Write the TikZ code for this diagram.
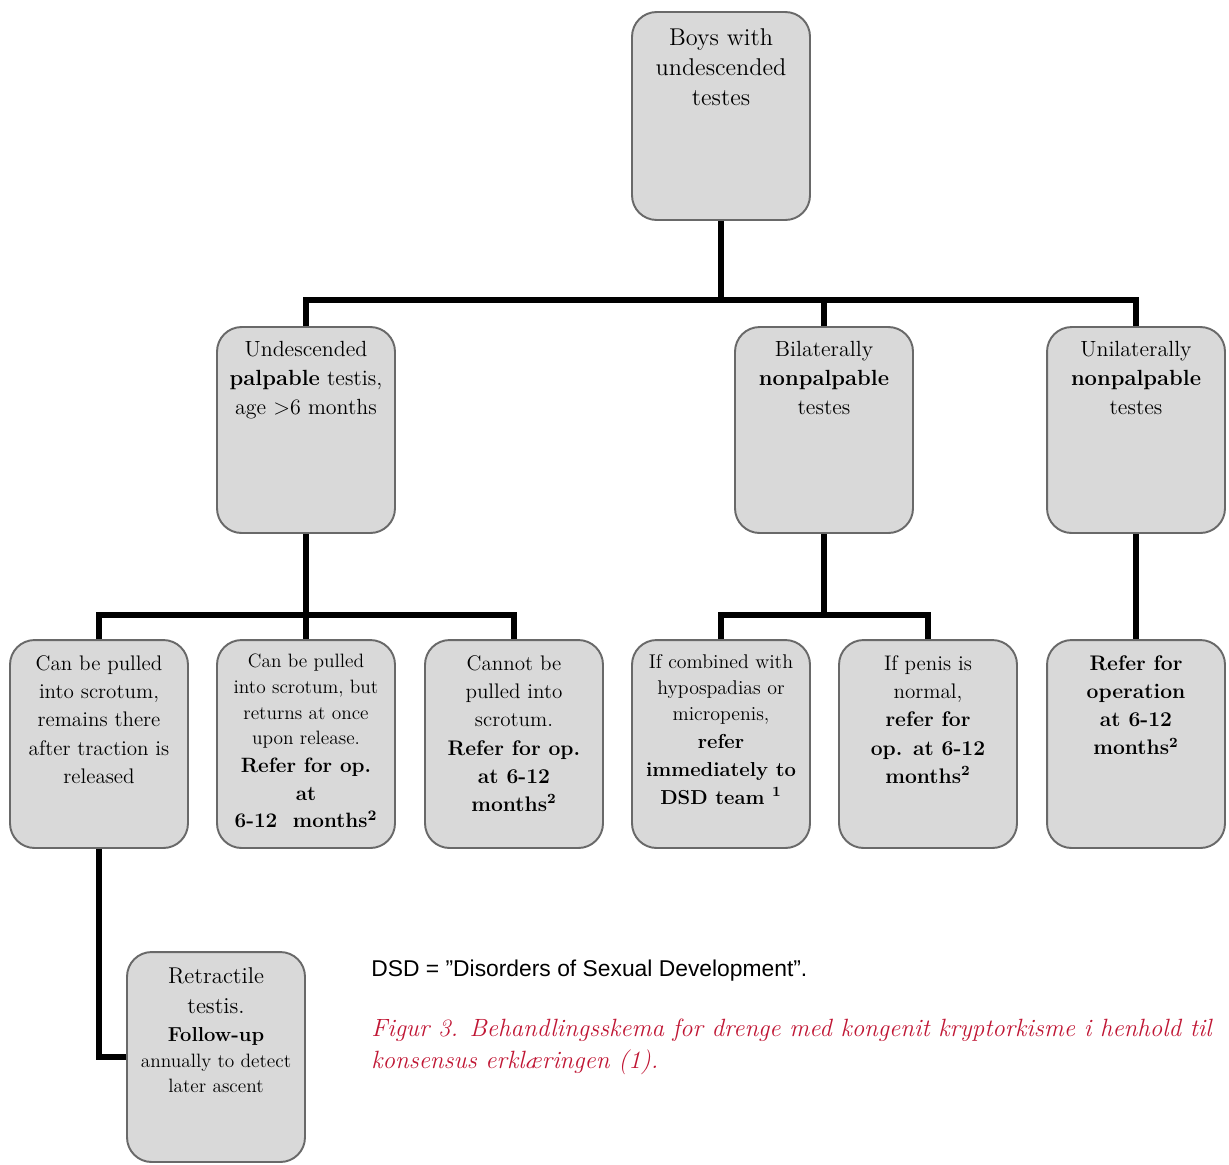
\documentclass[tikz,border=0pt]{standalone}
\usepackage{fontspec}
\usetikzlibrary{positioning}
\definecolor{boxfill}{RGB}{217,217,217}
\definecolor{boxedge}{RGB}{105,105,105}
\definecolor{capred}{RGB}{192,22,52}
\newfontfamily\notefont{Liberation Sans}
\tikzset{
  box/.style={draw=boxedge, fill=boxfill, line width=1.1pt, rounded corners=14pt, inner sep=0pt},
  link/.style={line width=3.9pt, draw=black}
}
% fixed-size box content, text hung from the top
\newcommand{\boxtext}[3]{\parbox[c][#1][t]{3.56cm}{\centering\vspace*{#2}#3}}

\begin{document}
\begin{tikzpicture}[x=0.02cm, y=-0.02cm]
  \useasboundingbox (0,0) rectangle (1229,1164);

  % root
  \node[box] (boys) at (721,116) {\boxtext{4.16cm}{9.5pt}{\fontsize{13.8}{17}\selectfont
    Boys with\\ undescended\\ testes}};

  % second row
  \node[box] (palp) at (306,430) {\boxtext{4.12cm}{8pt}{\fontsize{12.5}{16.5}\selectfont
    Undescended\\ \textbf{palpable} testis,\\ age >6 months}};
  \node[box] (bilat) at (824,430) {\boxtext{4.12cm}{8pt}{\fontsize{12.5}{16.5}\selectfont
    Bilaterally\\ \textbf{nonpalpable}\\ testes}};
  \node[box] (unilat) at (1136,430) {\boxtext{4.12cm}{8pt}{\fontsize{12.5}{16.5}\selectfont
    Unilaterally\\ \textbf{nonpalpable}\\ testes}};

  % third row
  \node[box] (pullstay) at (99,744) {\boxtext{4.16cm}{9pt}{\fontsize{12}{16}\selectfont
    Can be pulled\\ into scrotum,\\ remains there\\ after traction is\\ released}};
  \node[box] (pullback) at (306,744) {\boxtext{4.16cm}{8pt}{%
    {\fontsize{11}{14.6}\selectfont Can be pulled\\ into scrotum, but\\ returns at once\\ upon release.\par}
    {\fontsize{11.8}{15.8}\selectfont\bfseries Refer for op.\\ at\\ 6-12~ months\textsuperscript{2}\par}}};
  \node[box] (nopull) at (514,744) {\boxtext{4.16cm}{9pt}{\fontsize{12}{16}\selectfont
    Cannot be\\ pulled into\\ scrotum.\\ \textbf{Refer for op.}\\ \textbf{at 6-12}\\ \textbf{months\textsuperscript{2}}}};
  \node[box] (dsd) at (721,744) {\boxtext{4.16cm}{8pt}{%
    {\fontsize{11.3}{15}\selectfont If combined with\\ hypospadias or\\ micropenis,\par}
    {\fontsize{11.5}{15.8}\selectfont\bfseries refer\\ immediately to\\ DSD team \textsuperscript{1}\par}}};
  \node[box] (normal) at (928,744) {\boxtext{4.16cm}{9pt}{\fontsize{12}{16}\selectfont
    If penis is\\ normal,\\ \textbf{refer for}\\ \textbf{op. at 6-12}\\ \textbf{months\textsuperscript{2}}}};
  \node[box] (operate) at (1136,744) {\boxtext{4.16cm}{9pt}{\fontsize{12}{16}\selectfont\bfseries
    Refer for\\ operation\\ at 6-12\\ months\textsuperscript{2}}};

  % fourth row
  \node[box] (retract) at (216,1057) {\boxtext{4.2cm}{9pt}{%
    {\fontsize{13}{17}\selectfont Retractile\\ testis.\par}
    {\fontsize{11.5}{16}\selectfont\bfseries Follow-up\par}
    {\fontsize{11}{14.5}\selectfont annually to detect\\ later ascent\par}}};

  % connectors
  \coordinate (bar1) at (721,300);
  \coordinate (bar2) at (306,615);
  \coordinate (bar3) at (824,615);
  \draw[link] (boys.south) -- (bar1);
  \draw[link] (palp.north) |- (bar1) -| (unilat.north);
  \draw[link] (bilat.north) -- (bilat.north |- bar1);
  \draw[link] (palp.south) -- (bar2);
  \draw[link] (pullstay.north) |- (bar2) -| (nopull.north);
  \draw[link] (pullback.north) -- (pullback.north |- bar2);
  \draw[link] (bilat.south) -- (bar3);
  \draw[link] (dsd.north) |- (bar3) -| (normal.north);
  \draw[link] (unilat.south) -- (operate.north);
  \draw[link] (pullstay.south) |- (retract.west);

  % notes
  \node[anchor=base west, inner sep=0pt, font=\notefont\fontsize{13}{15}\selectfont] (abbr) at (371,976)
    {DSD = ”Disorders of Sexual Development”.};
  \node[anchor=north west, inner sep=0pt, align=left, text=capred, font=\itshape\fontsize{14.2}{18}\selectfont] (caption) at (371,1019)
    {Figur 3. Behandlingsskema for drenge med kongenit kryptorkisme i henhold til\\ konsensus erklæringen (1).};
\end{tikzpicture}
\end{document}
